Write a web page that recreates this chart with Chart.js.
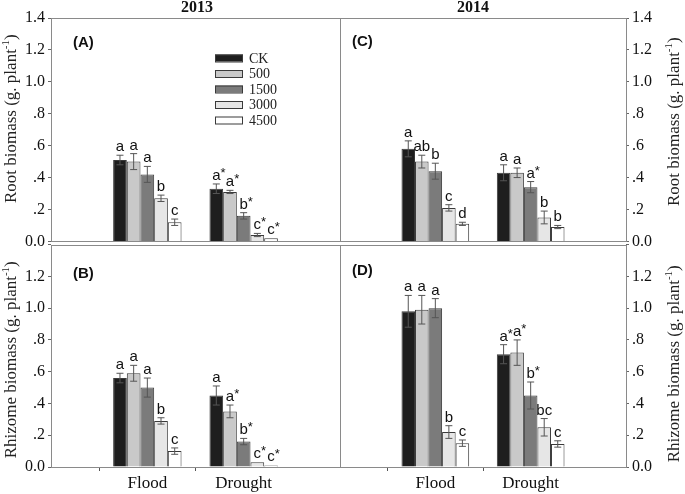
<!DOCTYPE html>
<html>
<head>
<meta charset="utf-8">
<script src="https://cdn.jsdelivr.net/npm/chart.js@4.4.1/dist/chart.umd.min.js"></script>
<style>
  body { margin: 0; background: #fff; width: 685px; height: 494px; position: relative; overflow: hidden; }
  canvas { position: absolute; }
</style>
</head>
<body>
<canvas id="cA" width="345" height="254" style="left:0;top:0"></canvas>
<canvas id="cC" width="385" height="254" style="left:300px;top:0"></canvas>
<canvas id="cB" width="345" height="262" style="left:0;top:232px"></canvas>
<canvas id="cD" width="385" height="262" style="left:300px;top:232px"></canvas>
<script>
const levels = ['CK', '500', '1500', '3000', '4500'];
const groups = ['Flood', 'Drought'];
const yTickLabels = ['0.0', '.2', '.4', '.6', '.8', '1.0', '1.2', '1.4'];

// (A) root biomass 2013
const rootFlood13 = [0.51, 0.50, 0.42, 0.27, 0.12];
const rootFlood13Err = [0.03, 0.05, 0.05, 0.02, 0.02];
const rootFlood13Sig = ['a', 'a', 'a', 'b', 'c'];
const rootDrought13 = [0.33, 0.31, 0.16, 0.04, 0.02];
const rootDrought13Err = [0.03, 0.01, 0.02, 0.01, 0];
const rootDrought13Sig = ['a*', 'a*', 'b*', 'c*', 'c*'];

// (B) rhizome biomass 2013
const rhizFlood13 = [0.56, 0.59, 0.50, 0.29, 0.10];
const rhizFlood13Err = [0.03, 0.05, 0.06, 0.02, 0.02];
const rhizFlood13Sig = ['a', 'a', 'a', 'b', 'c'];
const rhizDrought13 = [0.45, 0.35, 0.16, 0.03, 0.01];
const rhizDrought13Err = [0.06, 0.04, 0.02, 0, 0];
const rhizDrought13Sig = ['a', 'a*', 'b*', 'c*', 'c*'];

// (C) root biomass 2014
const rootFlood14 = [0.58, 0.50, 0.44, 0.21, 0.11];
const rootFlood14Err = [0.05, 0.04, 0.05, 0.02, 0.01];
const rootFlood14Sig = ['a', 'ab', 'b', 'c', 'd'];
const rootDrought14 = [0.43, 0.43, 0.34, 0.15, 0.09];
const rootDrought14Err = [0.05, 0.03, 0.035, 0.04, 0.01];
const rootDrought14Sig = ['a', 'a', 'a*', 'b', 'b'];

// (D) rhizome biomass 2014
const rhizFlood14 = [0.98, 0.99, 1.00, 0.22, 0.15];
const rhizFlood14Err = [0.10, 0.09, 0.06, 0.04, 0.02];
const rhizFlood14Sig = ['a', 'a', 'a', 'b', 'c'];
const rhizDrought14 = [0.71, 0.72, 0.45, 0.25, 0.145];
const rhizDrought14Err = [0.06, 0.08, 0.085, 0.055, 0.02];
const rhizDrought14Sig = ['a*', 'a*', 'b*', 'bc', 'c'];

const fills = ['#1e1e1e', '#c9c9c9', '#7b7b7b', '#e6e6e6', '#ffffff'];
const serif = '"Liberation Serif", "Times New Roman", serif';
const sans = '"Liberation Sans", Arial, sans-serif';

function makeSets(fl, dr, flErr, drErr, flSig, drSig) {
  return levels.map((lv, i) => ({
    label: lv,
    data: [null, fl[i], dr[i], null],
    err: [0, flErr[i], drErr[i], 0],
    sig: ['', flSig[i], drSig[i], ''],
    backgroundColor: fills[i],
    borderColor: '#3a3a3a',
    borderWidth: 1,
    barPercentage: 1,
    categoryPercentage: 0.71
  }));
}

// frame, error bars, letters, panel tag, year, axis title, legend
const panelPlugin = {
  id: 'panel',
  afterDatasetsDraw(chart, args, opts) {
    const ctx = chart.ctx;
    const ys = chart.scales.y;
    ctx.save();
    chart.data.datasets.forEach((ds, di) => {
      chart.getDatasetMeta(di).data.forEach((bar, j) => {
        const v = ds.data[j];
        if (v == null) return;
        const e = ds.err[j];
        const x = bar.x;
        if (e > 0) {
          const y1 = ys.getPixelForValue(v + e), y2 = ys.getPixelForValue(v - e);
          ctx.strokeStyle = '#555';
          ctx.lineWidth = 1;
          ctx.beginPath();
          ctx.moveTo(x, y1); ctx.lineTo(x, y2);
          ctx.moveTo(x - 3.5, y1); ctx.lineTo(x + 3.5, y1);
          ctx.moveTo(x - 3.5, y2); ctx.lineTo(x + 3.5, y2);
          ctx.stroke();
        }
        // significance letters
        const s = ds.sig[j];
        const star = s.endsWith('*');
        const base = star ? s.slice(0, -1) : s;
        const yTop = ys.getPixelForValue(v + e) - 4;
        ctx.fillStyle = '#111';
        ctx.font = '15px ' + sans;
        ctx.textAlign = 'center';
        ctx.textBaseline = 'alphabetic';
        ctx.fillText(base, x, yTop);
        if (star) {
          const w = ctx.measureText(base).width;
          ctx.font = '13px ' + sans;
          ctx.textAlign = 'left';
          ctx.fillText('*', x + w / 2, yTop - 3);
        }
      });
    });
    ctx.restore();
  },
  afterDraw(chart, args, opts) {
    const ctx = chart.ctx;
    const a = chart.chartArea;
    ctx.save();
    ctx.strokeStyle = '#8a8a8a';
    ctx.lineWidth = 1;
    ctx.strokeRect(Math.round(a.left) + 0.5, Math.round(a.top) + 0.5,
                   Math.round(a.right - a.left), Math.round(a.bottom - a.top));
    // panel tag
    ctx.fillStyle = '#111';
    ctx.font = 'bold 15px ' + sans;
    ctx.textAlign = 'left';
    ctx.textBaseline = 'middle';
    ctx.fillText(opts.tag, a.left + opts.tagX, a.top + opts.tagY);
    // year heading
    if (opts.year) {
      ctx.font = 'bold 16px ' + serif;
      ctx.textAlign = 'center';
      ctx.fillText(opts.year, a.left + opts.yearX, 8);
    }
    // axis title with superscript, read bottom to top
    ctx.textAlign = 'left';
    const tx = opts.side === 'left' ? a.left - 39 : a.right + 49;
    const ty = (a.top + a.bottom) / 2 + opts.titleShift;
    ctx.translate(tx, ty);
    ctx.rotate(-Math.PI / 2);
    const f1 = '17px ' + serif, f2 = '11px ' + serif;
    ctx.font = f1;
    const w1 = ctx.measureText(opts.title).width, w3 = ctx.measureText(')').width;
    ctx.font = f2;
    const w2 = ctx.measureText('-1').width;
    let sx = -(w1 + w2 + w3) / 2;
    ctx.fillStyle = '#222';
    ctx.font = f1; ctx.fillText(opts.title, sx, 0); sx += w1;
    ctx.font = f2; ctx.fillText('-1', sx, -6); sx += w2;
    ctx.font = f1; ctx.fillText(')', sx, 0);
    ctx.restore();
    // legend
    if (opts.legend) {
      ctx.save();
      chart.data.datasets.forEach((ds, i) => {
        const y = a.top + 40 + i * 15.5;
        ctx.fillStyle = ds.backgroundColor;
        ctx.strokeStyle = '#3a3a3a';
        ctx.fillRect(a.left + 164, y - 3.5, 28, 7);
        ctx.strokeRect(a.left + 164.5, y - 3, 27, 7);
        ctx.fillStyle = '#222';
        ctx.font = '14px ' + serif;
        ctx.textAlign = 'left';
        ctx.textBaseline = 'middle';
        ctx.fillText(ds.label, a.left + 198, y + 1);
      });
      ctx.restore();
    }
  }
};

function makeChart(id, sets, p) {
  const bottom = p.bottomRow;
  const side = p.panel.side;
  return new Chart(document.getElementById(id), {
    type: 'bar',
    data: { labels: ['', ...groups, ''], datasets: sets },
    options: {
      responsive: false,
      animation: false,
      events: [],
      layout: { padding: p.padding },
      plugins: {
        legend: { display: false },
        tooltip: { enabled: false },
        panel: p.panel
      },
      scales: {
        x: {
          offset: false,
          border: { display: false },
          grid: {
            drawOnChartArea: false,
            drawTicks: bottom,
            tickLength: 4,
            color: c => (c.index === 1 || c.index === 2) ? '#555' : 'rgba(0,0,0,0)'
          },
          ticks: {
            display: bottom,
            maxRotation: 0,
            autoSkip: false,
            padding: 2,
            color: '#111',
            font: { family: serif, size: 17 }
          },
          afterFit(s) { s.height = bottom ? 27 : 12; }
        },
        y: {
          position: side,
          min: 0,
          max: 1.4,
          border: { display: false },
          grid: { drawOnChartArea: false, tickLength: 3, color: '#666' },
          ticks: {
            stepSize: 0.2,
            padding: 3,
            color: '#111',
            font: { family: serif, size: 16 },
            // bottom panels leave the top label to the panel above
            callback: (v, i) => (bottom && i === 7) ? '' : yTickLabels[i]
          },
          afterFit(s) { s.width = side === 'left' ? 51 : 59; }
        }
      }
    },
    plugins: [panelPlugin]
  });
}

makeChart('cA', makeSets(rootFlood13, rootDrought13, rootFlood13Err, rootDrought13Err, rootFlood13Sig, rootDrought13Sig), {
  bottomRow: false, padding: { top: 18, right: 5 },
  panel: { tag: '(A)', tagX: 22, tagY: 25, side: 'left', title: 'Root biomass (g. plant', titleShift: -11, legend: true, year: '2013', yearX: 146 }
});
makeChart('cC', makeSets(rootFlood14, rootDrought14, rootFlood14Err, rootDrought14Err, rootFlood14Sig, rootDrought14Sig), {
  bottomRow: false, padding: { top: 18, left: 40 },
  panel: { tag: '(C)', tagX: 12, tagY: 24, side: 'right', title: 'Root biomass (g. plant', titleShift: -8, legend: false, year: '2014', yearX: 133 }
});
makeChart('cB', makeSets(rhizFlood13, rhizDrought13, rhizFlood13Err, rhizDrought13Err, rhizFlood13Sig, rhizDrought13Sig), {
  bottomRow: true, padding: { top: 10, right: 5 },
  panel: { tag: '(B)', tagX: 22, tagY: 29, side: 'left', title: 'Rhizome biomass (g. plant', titleShift: 4, legend: false }
});
makeChart('cD', makeSets(rhizFlood14, rhizDrought14, rhizFlood14Err, rhizDrought14Err, rhizFlood14Sig, rhizDrought14Sig), {
  bottomRow: true, padding: { top: 10, left: 40 },
  panel: { tag: '(D)', tagX: 12, tagY: 26, side: 'right', title: 'Rhizome biomass (g. plant', titleShift: 8, legend: false }
});
</script>
</body>
</html>
